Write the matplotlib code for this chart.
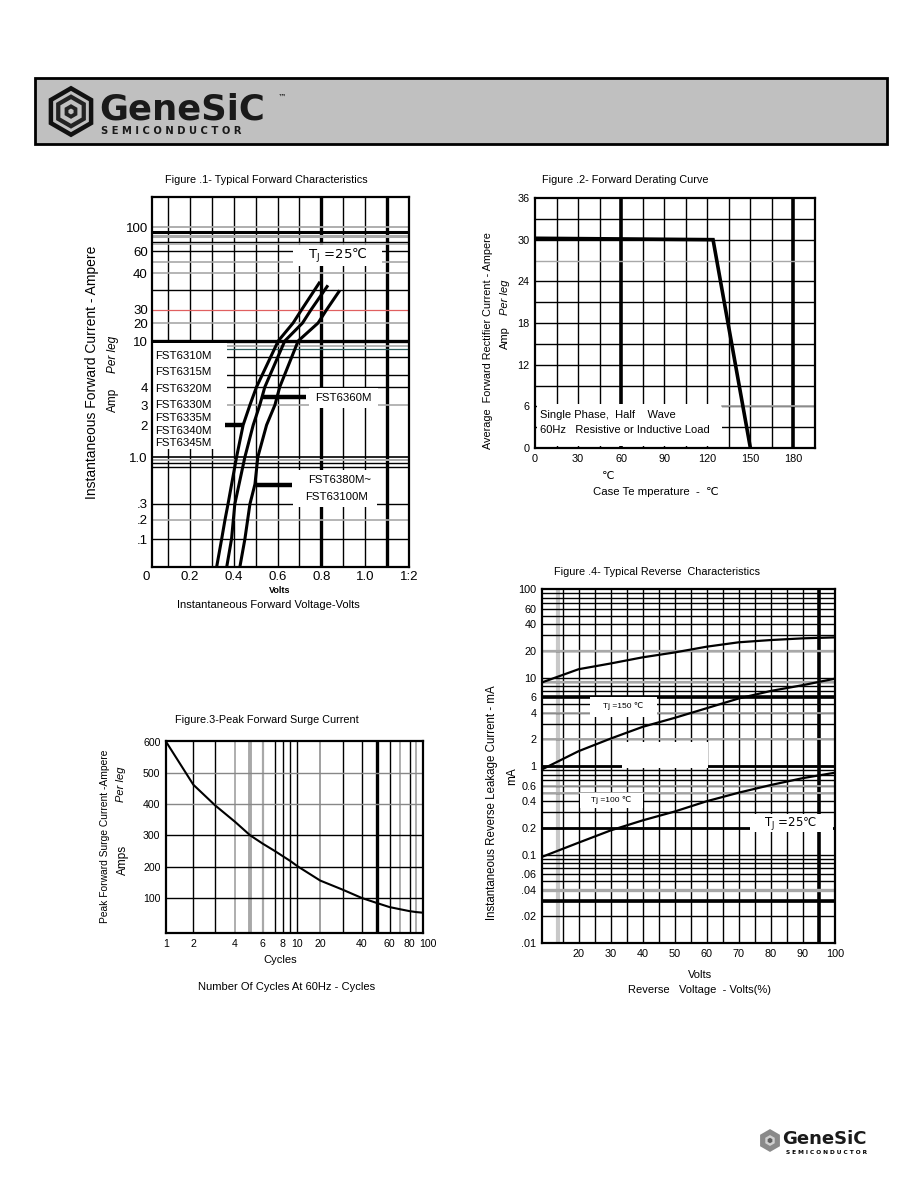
"""GeneSiC FST63xxM datasheet page: four characteristic curves."""
import matplotlib
matplotlib.use("Agg")
import matplotlib.pyplot as plt
import matplotlib.transforms as mtransforms
import numpy as np
from matplotlib.patches import Rectangle, RegularPolygon
from matplotlib.ticker import NullLocator

plt.rcParams['font.family'] = ['Liberation Sans', 'DejaVu Sans']

W, H = 918, 1188

# ---------------- Figure 1: typical forward characteristics
f1_yticks = [0.1, 0.2, 0.3, 1.0, 2, 3, 4, 10, 20, 30, 40, 60, 100]
f1_ylabels = ['.1', '.2', '.3', '1.0', '2', '3', '4', '10', '20', '30', '40', '60', '100']
f1_xticks = [0.2, 0.4, 0.6, 0.8, 1.0, 1.2]
f1_xlabels = ['0.2', '0.4', '0.6', '0.8', '1.0', '1:2']
# printed y-axis is irregular: anchor values and their heights (px above the x-axis)
f1_scale_vals = [0.035, 0.1, 0.2, 0.3, 1.0, 2, 3, 4, 10, 20, 30, 40, 60, 100, 200]
f1_scale_pos = [0, 28, 47, 63, 110, 142, 162, 180, 226, 244, 257, 294, 316, 340, 370]

fwd_a_amp = [0.035, 0.1, 0.2, 0.3, 1.0, 2, 3, 4, 10, 20, 30, 37]
fwd_a_volt = [0.322, 0.345, 0.36, 0.374, 0.413, 0.443, 0.474, 0.504, 0.603, 0.671, 0.709, 0.79]
fwd_b_amp = [0.035, 0.1, 0.3, 1.0, 2, 3, 4, 10, 20, 30, 36]
fwd_b_volt = [0.368, 0.39, 0.405, 0.451, 0.489, 0.519, 0.542, 0.633, 0.714, 0.752, 0.826]
fwd_c_amp = [0.035, 0.1, 0.3, 0.5, 1.0, 2, 3, 4, 10, 20, 30, 34.6]
fwd_c_volt = [0.428, 0.451, 0.474, 0.497, 0.51, 0.55, 0.588, 0.61, 0.694, 0.785, 0.823, 0.88]
f1_parts_low = ['FST6310M', 'FST6315M', 'FST6320M', 'FST6330M', 'FST6335M', 'FST6340M', 'FST6345M']

# ---------------- Figure 2: forward derating curve
derate_temp = [0, 124, 150]
derate_amp = [30.2, 30.0, 0]
f2_xticks = [0, 30, 60, 90, 120, 150, 180]
f2_yticks = [0, 6, 12, 18, 24, 30, 36]

# ---------------- Figure 3: peak forward surge current
surge_cycles = [1, 2, 3, 4, 5, 6, 7, 8, 9, 10, 20, 30, 40, 50, 60, 70, 80, 90, 100]
surge_amp = [600, 462, 396, 343, 300, 273, 249, 233, 218, 201, 155, 126, 99, 83, 70, 63, 57, 54, 52]
f3_xticks = [1, 2, 4, 6, 8, 10, 20, 40, 60, 80, 100]
f3_yticks = [100, 200, 300, 400, 500, 600]
# printed cycle axis is not a true log scale: anchor cycles and their offsets (px)
f3_scale_vals = [1, 2, 3, 4, 5, 6, 7, 8, 9, 10, 20, 30, 40, 50, 60, 70, 80, 90, 100]
f3_scale_pos = [0, 27.3, 49, 69, 84, 96.7, 109, 116.7, 124, 131.3, 154, 176.3, 195.7, 210.7,
                223.3, 234, 243.3, 250, 256.7]

# ---------------- Figure 4: typical reverse characteristics
rev_pct = [8.6, 20, 30, 40, 50, 60, 70, 80, 90, 100]
rev_hi = [8.8, 12.4, 14.4, 16.9, 19.2, 22.3, 25.0, 26.5, 27.7, 28.4]
rev_mid = [0.915, 1.47, 2.04, 2.77, 3.5, 4.5, 5.8, 7.05, 8.2, 9.7]
rev_lo = [0.094, 0.136, 0.187, 0.243, 0.306, 0.40, 0.50, 0.61, 0.73, 0.84]
f4_xticks = [20, 30, 40, 50, 60, 70, 80, 90, 100]
f4_yticks = [0.01, 0.02, 0.04, 0.06, 0.1, 0.2, 0.4, 0.6, 1, 2, 4, 6, 10, 20, 40, 60, 100]
f4_ylabels = ['.01', '.02', '.04', '.06', '0.1', '0.2', '0.4', '0.6', '1', '2', '4', '6',
              '10', '20', '40', '60', '100']

GRAY = '#a8a8a8'

fig = plt.figure(figsize=(W / 100, H / 100), dpi=100)


def rect(box):
    l, t, r, b = box
    return [l / W, 1 - b / H, (r - l) / W, (b - t) / H]


def apt(box, x, y):
    l, t, r, b = box
    return (x - l) / (r - l), (b - y) / (b - t)


def ftext(x, y, s, **kw):
    kw.setdefault('ha', 'center')
    kw.setdefault('va', 'center')
    return fig.text(x / W, 1 - y / H, s, **kw)


def frame(ax):
    for sp in ax.spines.values():
        sp.set_linewidth(1.6)
        sp.set_color('k')
        sp.set_zorder(6)
    ax.tick_params(length=0, colors='k')
    ax.xaxis.set_minor_locator(NullLocator())
    ax.yaxis.set_minor_locator(NullLocator())


def white_box(ax, box, l, t, r, b):
    x0, y1 = apt(box, l, t)
    x1, y0 = apt(box, r, b)
    ax.add_patch(Rectangle((x0, y0), x1 - x0, y1 - y0, transform=ax.transAxes,
                           fc='white', ec='none', zorder=2.5, clip_on=False))


def pointer(ax, box, x0, x1, y):
    a, yy = apt(box, x0, y)
    b, _ = apt(box, x1, y)
    ax.plot([a, b], [yy, yy], color='k', lw=3.2, transform=ax.transAxes,
            zorder=4, solid_capstyle='butt')


def anchored_scale(vals, pos):
    lv = np.log10(vals)

    def fwd(v):
        return np.interp(np.log10(np.clip(v, 1e-9, None)), lv, pos)

    def inv(p):
        return 10 ** np.interp(p, pos, lv)
    return fwd, inv


def hexlogo(box, rings):
    a = fig.add_axes(rect(box), zorder=2)
    a.set_xlim(-1.1, 1.1); a.set_ylim(-1.1, 1.1); a.set_aspect('equal'); a.axis('off')
    for r, c in rings:
        a.add_patch(RegularPolygon((0, 0), 6, radius=r, fc=c, ec='none'))


# ---------------- header banner
fig.patches.append(Rectangle((35 / W, 1 - 144 / H), 852 / W, 66 / H, transform=fig.transFigure,
                             fc='#c0c0c0', ec='k', lw=2, zorder=0))
hexlogo((44, 83, 98, 140), [(1.05, '#111111'), (0.84, '#c0c0c0'), (0.7, '#222222'),
                            (0.5, '#c0c0c0'), (0.3, '#222222'), (0.12, '#c0c0c0')])
ftext(99, 109, 'GeneSiC', ha='left', fontsize=25.5, fontweight='heavy',
      family='DejaVu Sans', color='#1a1a1a')
ftext(278, 97, '™', ha='left', fontsize=6, family='DejaVu Sans')
ftext(101, 131, 'S E M I C O N D U C T O R', ha='left', fontsize=7.2,
      fontweight='bold', family='DejaVu Sans', color='#1a1a1a')

# footer logo
hexlogo((758, 1128, 782, 1153), [(1.05, '#8a8a8a'), (0.5, '#d0d0d0'), (0.25, '#606060')])
ftext(782, 1139, 'GeneSiC', ha='left', fontsize=13, fontweight='heavy',
      family='DejaVu Sans', color='#1a1a1a')
ftext(786, 1153, 'S E M I C O N D U C T O R', ha='left', fontsize=4.2,
      fontweight='bold', family='DejaVu Sans')

# ---------------- Figure 1
B1 = (152, 197, 409, 567)
ax1 = fig.add_axes(rect(B1))
ax1.set_yscale('function', functions=anchored_scale(f1_scale_vals, f1_scale_pos))
ax1.set_xlim(0.027, 1.2)
ax1.set_ylim(0.035, 200)
for v in np.arange(0.1, 1.15, 0.1):
    thick = abs(v - 0.8) < 1e-6 or abs(v - 1.1) < 1e-6
    ax1.axvline(v, color='k', lw=2.4 if thick else 1.0, zorder=1)
f1_hlines = [(100, GRAY, 1.3), (90, 'k', 2.2), (82, GRAY, 2.2), (73, 'k', 1.0), (70, GRAY, 1.2),
             (60, 'k', 1.0), (49, GRAY, 1.2), (40, GRAY, 1.2), (35, 'k', 1.0),
             (30, '#e06060', 0.9), (20, GRAY, 1.2), (10, 'k', 2.4), (9, GRAY, 1.2),
             (8.5, '#2f5f5f', 0.9), (7.3, 'k', 1.0), (5.1, 'k', 1.0), (4, 'k', 1.0),
             (3, GRAY, 1.2), (1.0, 'k', 1.2), (0.93, GRAY, 1.4), (0.85, 'k', 1.0),
             (0.78, 'k', 1.0), (0.3, 'k', 1.0), (0.2, GRAY, 1.2), (0.1, 'k', 1.0)]
for v, c, w in f1_hlines:
    ax1.axhline(v, color=c, lw=w, zorder=1)
for vv, ii in ((fwd_a_volt, fwd_a_amp), (fwd_b_volt, fwd_b_amp), (fwd_c_volt, fwd_c_amp)):
    ax1.plot(vv, ii, color='k', lw=2.2, zorder=3)
ax1.set_yticks(f1_yticks, f1_ylabels)
ax1.set_xticks(f1_xticks, f1_xlabels)
frame(ax1)
ax1.tick_params(labelsize=9.5, pad=3)
ax1.text(0.0, -0.012, '0', transform=ax1.get_xaxis_transform(), ha='center', va='top',
         fontsize=9.5)
# annotation boxes
white_box(ax1, B1, 152, 343, 227, 449)
for name, y in zip(f1_parts_low, [356, 372, 389, 405, 418, 431, 443]):
    x, yy = apt(B1, 155, y)
    ax1.text(x, yy, name, transform=ax1.transAxes, ha='left', va='center', fontsize=8.2, zorder=5)
pointer(ax1, B1, 225, 243, 425)
white_box(ax1, B1, 293, 245, 382, 266)
x, y = apt(B1, 338, 256)
ax1.text(x, y, r'$\mathregular{T_J}$ =25℃', transform=ax1.transAxes, ha='center', va='center',
         fontsize=9.5, family='DejaVu Sans', zorder=5)
white_box(ax1, B1, 309, 388, 378, 408)
x, y = apt(B1, 343, 398)
ax1.text(x, y, 'FST6360M', transform=ax1.transAxes, ha='center', va='center', fontsize=8.2, zorder=5)
pointer(ax1, B1, 262, 306, 397)
white_box(ax1, B1, 293, 470, 377, 507)
x, y = apt(B1, 340, 480)
ax1.text(x, y, 'FST6380M~', transform=ax1.transAxes, ha='center', va='center', fontsize=8.2, zorder=5)
x, y = apt(B1, 336, 497)
ax1.text(x, y, 'FST63100M', transform=ax1.transAxes, ha='center', va='center', fontsize=8.2, zorder=5)
pointer(ax1, B1, 257, 292, 485)

ftext(266, 180, 'Figure .1- Typical Forward Characteristics', fontsize=7.8)
ftext(92, 372, 'Instantaneous Forward Current - Ampere', rotation=90, fontsize=10)
ftext(113, 400, 'Amp', rotation=90, fontsize=8.5)
ftext(113, 354, 'Per leg', rotation=90, fontsize=8.5, style='italic')
ftext(280, 591, 'Volts', fontsize=6.5, fontweight='bold')
ftext(268, 605, 'Instantaneous Forward Voltage-Volts', fontsize=8)

# ---------------- Figure 2
B2 = (535, 198, 815, 448)
ax2 = fig.add_axes(rect(B2))
ax2.set_xlim(0, 195)
ax2.set_ylim(0, 36)
for t in range(15, 195, 15):
    ax2.axvline(t, color='k', lw=2.6 if t in (60, 180) else 1.0, zorder=1)
for a in range(3, 36, 3):
    ax2.axhline(a, color=GRAY if a == 27 else 'k', lw=1.0, zorder=1)
ax2.axhline(6, xmin=apt(B2, 722, 0)[0], color=GRAY, lw=1.2, zorder=2.6)
ax2.plot(derate_temp, derate_amp, color='k', lw=2.6, zorder=3, solid_joinstyle='miter')
ax2.set_xticks(f2_xticks)
ax2.set_yticks(f2_yticks)
frame(ax2)
ax2.tick_params(labelsize=7.8, pad=4)
white_box(ax2, B2, 537, 404, 722, 446)
x, y = apt(B2, 540, 415)
ax2.text(x, y, 'Single Phase,  Half    Wave', transform=ax2.transAxes, ha='left', va='center',
         fontsize=8, zorder=5)
x, y = apt(B2, 540, 430)
ax2.text(x, y, '60Hz   Resistive or Inductive Load', transform=ax2.transAxes, ha='left',
         va='center', fontsize=8, zorder=5)
ftext(625, 180, 'Figure .2- Forward Derating Curve', fontsize=7.8)
ftext(488, 341, 'Average  Forward Rectifier Current - Ampere', rotation=90, fontsize=7.8)
ftext(505, 338, 'Amp', rotation=90, fontsize=8)
ftext(505, 297, 'Per leg', rotation=90, fontsize=8, style='italic')
ftext(608, 476, '℃', fontsize=8)
ftext(656, 492, 'Case Te mperature  -  ℃', fontsize=8.2)

# ---------------- Figure 3
B3 = (166, 741, 423, 933)
ax3 = fig.add_axes(rect(B3))
ax3.set_xscale('function', functions=anchored_scale(f3_scale_vals, f3_scale_pos))
ax3.set_xlim(1, 100)
ax3.set_ylim(-13, 602)
f3_vlines = [(2, 'k', 1.0), (3, 'k', 1.0), (4, GRAY, 1.3), (5, GRAY, 2.8), (6, GRAY, 1.6),
             (7, 'k', 1.0), (8, 'k', 1.0), (9, 'k', 1.0), (10, 'k', 1.0), (20, '#999999', 1.3),
             (30, 'k', 1.0), (40, 'k', 1.0), (50, 'k', 2.4), (60, 'k', 1.0), (70, GRAY, 1.3),
             (80, 'k', 1.0), (90, GRAY, 1.3)]
for v, c, w in f3_vlines:
    ax3.axvline(v, color=c, lw=w, zorder=1)
for a, c in ((100, 'k'), (200, 'k'), (300, 'k'), (400, '#888888'), (500, '#888888')):
    ax3.axhline(a, color=c, lw=1.0, zorder=1)
ax3.plot(surge_cycles, surge_amp, color='k', lw=1.5, zorder=3)
ax3.set_xticks(f3_xticks, [str(v) for v in f3_xticks])
ax3.set_yticks(f3_yticks)
frame(ax3)
ax3.tick_params(labelsize=7.6, pad=4)
last = ax3.get_xticklabels()[-1]
last.set_ha('left')
last.set_transform(last.get_transform()
                   + mtransforms.ScaledTranslation(-4 / 100, 0, fig.dpi_scale_trans))
ftext(267, 720, 'Figure.3-Peak Forward Surge Current', fontsize=7.8)
ftext(105, 836, 'Peak Forward Surge Current -Ampere', rotation=90, fontsize=7.4)
ftext(121, 784, 'Per leg', rotation=90, fontsize=8, style='italic')
ftext(123, 860, 'Amps', rotation=90, fontsize=8.5)
ftext(280, 960, 'Cycles', fontsize=8)
ftext(287, 987, 'Number Of Cycles At 60Hz - Cycles', fontsize=8)

# ---------------- Figure 4
B4 = (542, 589, 835, 943)
ax4 = fig.add_axes(rect(B4))
ax4.set_yscale('log')
ax4.set_xlim(8.6, 100)
ax4.set_ylim(0.01, 100)
ax4.axvline(13.6, color='#c8c8c8', lw=3, zorder=1)
for p in range(15, 100, 5):
    ax4.axvline(p, color='k', lw=2.6 if p == 95 else 1.0, zorder=1)
for d in (0.01, 0.1, 1, 10):
    for m in range(1, 10):
        ax4.axhline(d * m, color='k', lw=1.0, zorder=1)
f4_hlines = [(20, GRAY, 1.6), (9, GRAY, 1.6), (6, 'k', 2.6), (4, GRAY, 1.2), (2, GRAY, 1.4),
             (1, 'k', 2.0), (0.5, GRAY, 1.4), (0.2, 'k', 2.0), (0.04, GRAY, 2.4),
             (0.03, 'k', 2.6), (0.6, GRAY, 1.2)]
for v, c, w in f4_hlines:
    ax4.axhline(v, color=c, lw=w, zorder=1.2)
for curve in (rev_hi, rev_mid, rev_lo):
    ax4.plot(rev_pct, curve, color='k', lw=1.6, zorder=3)
ax4.set_xticks(f4_xticks)
ax4.set_yticks(f4_yticks, f4_ylabels)
frame(ax4)
ax4.tick_params(labelsize=7.8, pad=4)
white_box(ax4, B4, 622, 742, 708, 768)
white_box(ax4, B4, 590, 697, 657, 717)
x, y = apt(B4, 623, 706)
ax4.text(x, y, 'Tj =150 ℃', transform=ax4.transAxes, ha='center', va='center', fontsize=6, zorder=5)
white_box(ax4, B4, 580, 793, 643, 808)
x, y = apt(B4, 611, 800)
ax4.text(x, y, 'Tj =100 ℃', transform=ax4.transAxes, ha='center', va='center', fontsize=6, zorder=5)
white_box(ax4, B4, 750, 814, 833, 832)
x, y = apt(B4, 791, 823)
ax4.text(x, y, r'$\mathregular{T_J}$ =25℃', transform=ax4.transAxes, ha='center', va='center',
         fontsize=8.5, family='DejaVu Sans', zorder=5)
ftext(657, 572, 'Figure .4- Typical Reverse  Characteristics', fontsize=7.8)
ftext(492, 803, 'Instantaneous Reverse Leakage Current - mA', rotation=90, fontsize=8.3)
ftext(512, 776, 'mA', rotation=90, fontsize=8.5)
ftext(700, 975, 'Volts', fontsize=8)
ftext(700, 990, 'Reverse   Voltage  - Volts(%)', fontsize=8)

fig.savefig('out.png', dpi=100)
